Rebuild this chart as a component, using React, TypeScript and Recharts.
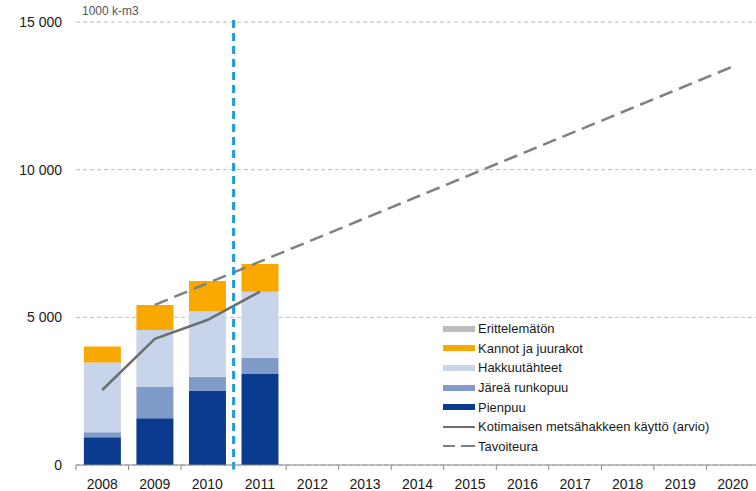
import {
  Bar,
  ComposedChart,
  Line,
  XAxis,
  YAxis,
  CartesianGrid,
  ReferenceLine,
} from 'recharts';

const years = ['2008', '2009', '2010', '2011', '2012', '2013', '2014', '2015', '2016', '2017', '2018', '2019', '2020'];

// 1000 k-m3
const pienpuu = [940, 1580, 2520, 3100, null, null, null, null, null, null, null, null, null];
const jarea = [170, 1060, 470, 530, null, null, null, null, null, null, null, null, null];
const hakkuutahteet = [2360, 1930, 2220, 2240, null, null, null, null, null, null, null, null, null];
const kannot = [540, 850, 1020, 940, null, null, null, null, null, null, null, null, null];
const erittelematon = [0, 0, 0, 0, null, null, null, null, null, null, null, null, null];
const kaytto = [2540, 4270, 4910, 5870, null, null, null, null, null, null, null, null, null];
const tavoite = [null, 5420, null, null, null, null, null, null, null, null, null, null, 13490];

const yTicks = [0, 5000, 10000, 15000];
const splitYear = '2011';

const data = years.map((year, i) => ({
  year,
  pienpuu: pienpuu[i],
  jarea: jarea[i],
  hakkuutahteet: hakkuutahteet[i],
  kannot: kannot[i],
  erittelematon: erittelematon[i],
  kaytto: kaytto[i],
  tavoite: tavoite[i],
}));

const FONT = '"Liberation Sans", Arial, sans-serif';

const legendItems = [
  { label: 'Erittelemätön', color: '#bdbdbd', kind: 'box' },
  { label: 'Kannot ja juurakot', color: '#f9a800', kind: 'box' },
  { label: 'Hakkuutähteet', color: '#c8d4e9', kind: 'box' },
  { label: 'Järeä runkopuu', color: '#7f9cc9', kind: 'box' },
  { label: 'Pienpuu', color: '#0b3b8e', kind: 'box' },
  { label: 'Kotimaisen metsähakkeen käyttö (arvio)', color: '#6e6e6e', kind: 'line' },
  { label: 'Tavoiteura', color: '#808080', kind: 'dash' },
];

const fmt = (v: number) => (v === 0 ? '0' : `${Math.floor(v / 1000)} 000`);

const YearTick = (props: any) => {
  const { x, y, payload } = props;
  const half = payload.offset ?? 26.3;
  return (
    <g>
      <line x1={x - half} x2={x - half} y1={y} y2={y + 5} stroke="#888" strokeWidth={1} />
      <text x={x} y={y + 24} textAnchor="middle" fontSize={14} fill="#1a1a1a" fontFamily={FONT}>
        {payload.value}
      </text>
    </g>
  );
};

const App = () => {
  return (
    <div style={{ position: 'relative', width: 756, height: 491, overflow: 'hidden', background: '#fff', fontFamily: FONT }}>
      <style>{'body{margin:0}'}</style>
      <ComposedChart
        width={760}
        height={491}
        data={data}
        margin={{ top: 22, right: 1, left: 0, bottom: 0 }}
        barCategoryGap="15%"
      >
        <CartesianGrid vertical={false} stroke="#bcbcbc" strokeDasharray="4 3" />
        <XAxis
          dataKey="year"
          height={26}
          tickLine={false}
          tickSize={0}
          tickMargin={0}
          axisLine={{ stroke: '#888' }}
          tick={<YearTick />}
          interval={0}
        />
        <YAxis
          width={76}
          domain={[0, 15000]}
          ticks={yTicks}
          axisLine={false}
          tickLine={false}
          tickSize={6}
          tickMargin={8}
          tickFormatter={fmt}
          tick={{ fontSize: 14, fill: '#1a1a1a', fontFamily: FONT }}
        />
        <Bar dataKey="pienpuu" stackId="a" fill="#0b3b8e" isAnimationActive={false} />
        <Bar dataKey="jarea" stackId="a" fill="#7f9cc9" isAnimationActive={false} />
        <Bar dataKey="hakkuutahteet" stackId="a" fill="#c8d4e9" isAnimationActive={false} />
        <Bar dataKey="kannot" stackId="a" fill="#f9a800" isAnimationActive={false} />
        <Bar dataKey="erittelematon" stackId="a" fill="#bdbdbd" isAnimationActive={false} />
        <Line
          dataKey="kaytto"
          stroke="#6e6e6e"
          strokeWidth={2.5}
          dot={false}
          type="linear"
          isAnimationActive={false}
        />
        <Line
          dataKey="tavoite"
          stroke="#808080"
          strokeWidth={2.5}
          strokeDasharray="14 7"
          dot={false}
          type="linear"
          connectNulls
          isAnimationActive={false}
        />
        <ReferenceLine
          segment={[{ x: splitYear, y: 15070 }, { x: splitYear, y: -140 }]}
          position="start"
          ifOverflow="visible"
          stroke="#1b9bd7"
          strokeWidth={3}
          strokeDasharray="8 5"
        />
      </ComposedChart>
      <div style={{ position: 'absolute', left: 82, top: 4, fontSize: 12, color: '#555' }}>1000 k-m3</div>
      <div style={{ position: 'absolute', left: 443, top: 319 }}>
        {legendItems.map((it) => (
          <div key={it.label} style={{ display: 'flex', alignItems: 'center', height: 19.6, fontSize: 13, color: '#1a1a1a' }}>
            <svg width={35} height={10}>
              {it.kind === 'box' && <rect x={0} y={2} width={32} height={6} fill={it.color} />}
              {it.kind === 'line' && <line x1={0} x2={32} y1={5} y2={5} stroke={it.color} strokeWidth={2} />}
              {it.kind === 'dash' && (
                <g>
                  <line x1={0} x2={12} y1={5} y2={5} stroke={it.color} strokeWidth={2} />
                  <line x1={18} x2={32} y1={5} y2={5} stroke={it.color} strokeWidth={2} />
                </g>
              )}
            </svg>
            <span>{it.label}</span>
          </div>
        ))}
      </div>
    </div>
  );
};

export default App;
